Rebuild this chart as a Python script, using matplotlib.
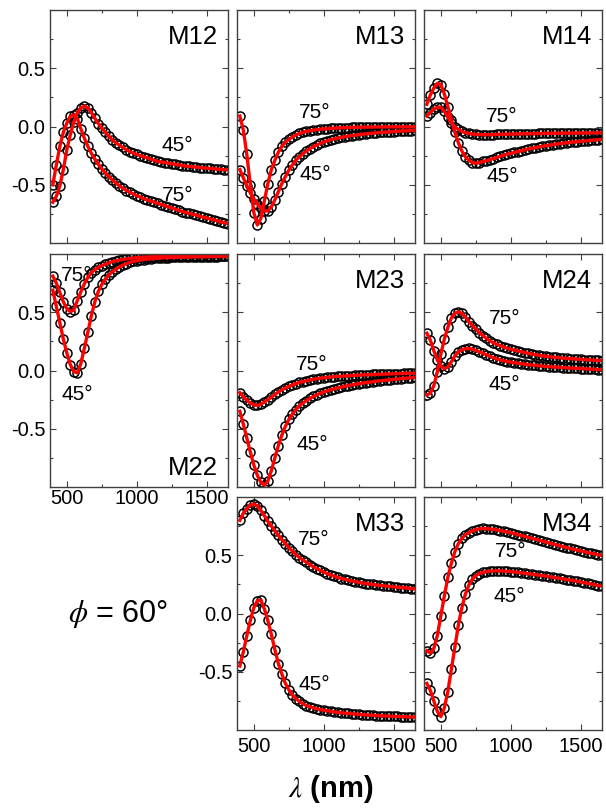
import matplotlib
matplotlib.use("Agg")
import matplotlib.pyplot as plt
from matplotlib.ticker import FormatStrFormatter

plt.rcParams["font.family"] = ["Liberation Sans", "DejaVu Sans"]
plt.rcParams["mathtext.fontset"] = "stix"
plt.rcParams["axes.unicode_minus"] = False

# ----------------------------------------------------------------------
# DATA (wavelength in nm, Mueller matrix elements at 45 and 75 deg)
# ----------------------------------------------------------------------
wl = [400, 425, 450, 475, 500, 525, 550, 575, 600, 625,
      650, 675, 700, 725, 750, 775, 800, 825, 850, 875,
      900, 925, 950, 975, 1000, 1025, 1050, 1075, 1100, 1125,
      1150, 1175, 1200, 1225, 1250, 1275, 1300, 1325, 1350, 1375,
      1400, 1425, 1450, 1475, 1500, 1525, 1550, 1575, 1600, 1625,
      1650]

m12_45 = [-0.65, -0.60, -0.51, -0.37, -0.20, -0.07, 0.04, 0.12, 0.16, 0.175,
          0.16, 0.12, 0.07, 0.025, -0.015, -0.05, -0.085, -0.115, -0.14, -0.16,
          -0.18, -0.20, -0.215, -0.23, -0.24, -0.25, -0.26, -0.27, -0.28, -0.29,
          -0.30, -0.305, -0.31, -0.315, -0.32, -0.325, -0.33, -0.335, -0.34, -0.343,
          -0.346, -0.349, -0.352, -0.355, -0.358, -0.36, -0.363, -0.366, -0.368, -0.37,
          -0.372]
m12_75 = [-0.50, -0.33, -0.17, -0.05, 0.03, 0.09, 0.10, 0.065, -0.02, -0.10,
          -0.17, -0.23, -0.28, -0.325, -0.365, -0.40, -0.43, -0.46, -0.485, -0.51,
          -0.53, -0.55, -0.565, -0.58, -0.595, -0.605, -0.62, -0.63, -0.64, -0.65,
          -0.66, -0.67, -0.68, -0.69, -0.70, -0.71, -0.72, -0.73, -0.74, -0.745,
          -0.755, -0.76, -0.77, -0.78, -0.785, -0.795, -0.80, -0.81, -0.82, -0.825,
          -0.835]

m13_45 = [-0.37, -0.44, -0.51, -0.57, -0.62, -0.665, -0.70, -0.725, -0.725, -0.69,
          -0.63, -0.56, -0.49, -0.43, -0.375, -0.33, -0.29, -0.26, -0.235, -0.21,
          -0.19, -0.172, -0.158, -0.145, -0.133, -0.122, -0.113, -0.106, -0.099, -0.093,
          -0.087, -0.082, -0.078, -0.074, -0.07, -0.066, -0.063, -0.06, -0.057, -0.054,
          -0.051, -0.049, -0.047, -0.045, -0.043, -0.041, -0.039, -0.038, -0.036, -0.035,
          -0.034]
m13_75 = [0.09, -0.03, -0.24, -0.50, -0.74, -0.845, -0.79, -0.64, -0.49, -0.37,
          -0.29, -0.22, -0.17, -0.135, -0.11, -0.09, -0.072, -0.06, -0.05, -0.042,
          -0.036, -0.031, -0.027, -0.023, -0.02, -0.018, -0.016, -0.014, -0.012, -0.011,
          -0.01, -0.009, -0.008, -0.007, -0.006, -0.006, -0.005, -0.005, -0.005, -0.004,
          -0.004, -0.004, -0.004, -0.003, -0.003, -0.003, -0.003, -0.003, -0.003, -0.003,
          -0.003]

m14_45 = [0.19, 0.27, 0.33, 0.37, 0.36, 0.28, 0.17, 0.06, -0.05, -0.14,
          -0.21, -0.26, -0.29, -0.31, -0.315, -0.31, -0.30, -0.295, -0.285, -0.275,
          -0.265, -0.255, -0.245, -0.237, -0.23, -0.222, -0.215, -0.207, -0.20, -0.193,
          -0.187, -0.181, -0.175, -0.17, -0.165, -0.16, -0.155, -0.151, -0.147, -0.143,
          -0.139, -0.136, -0.133, -0.13, -0.127, -0.124, -0.121, -0.118, -0.116, -0.113,
          -0.11]
m14_75 = [0.09, 0.12, 0.15, 0.165, 0.165, 0.13, 0.08, 0.03, -0.005, -0.025,
          -0.042, -0.053, -0.06, -0.065, -0.068, -0.069, -0.07, -0.07, -0.07, -0.069,
          -0.068, -0.067, -0.066, -0.066, -0.065, -0.064, -0.064, -0.063, -0.062, -0.062,
          -0.061, -0.061, -0.06, -0.06, -0.059, -0.059, -0.058, -0.058, -0.058, -0.057,
          -0.057, -0.057, -0.056, -0.056, -0.056, -0.055, -0.055, -0.055, -0.055, -0.054,
          -0.054]

m22_45 = [0.69, 0.55, 0.41, 0.27, 0.15, 0.05, -0.01, -0.02, 0.06, 0.19,
          0.33, 0.47, 0.59, 0.68, 0.74, 0.785, 0.82, 0.847, 0.869, 0.89,
          0.905, 0.918, 0.928, 0.937, 0.943, 0.948, 0.952, 0.956, 0.959, 0.962,
          0.964, 0.966, 0.968, 0.969, 0.970, 0.971, 0.972, 0.973, 0.973, 0.974,
          0.975, 0.975, 0.976, 0.976, 0.977, 0.977, 0.978, 0.978, 0.979, 0.979,
          0.98]
m22_75 = [0.81, 0.75, 0.67, 0.59, 0.53, 0.505, 0.52, 0.60, 0.675, 0.745,
          0.80, 0.84, 0.865, 0.885, 0.90, 0.913, 0.925, 0.934, 0.942, 0.948,
          0.953, 0.958, 0.962, 0.966, 0.969, 0.971, 0.973, 0.975, 0.976, 0.977,
          0.978, 0.979, 0.98, 0.98, 0.981, 0.981, 0.982, 0.982, 0.982, 0.983,
          0.983, 0.983, 0.984, 0.984, 0.984, 0.985, 0.985, 0.985, 0.986, 0.986,
          0.986]

m23_45 = [-0.35, -0.46, -0.58, -0.70, -0.81, -0.90, -0.96, -0.985, -0.95, -0.86,
          -0.75, -0.645, -0.555, -0.48, -0.42, -0.375, -0.335, -0.305, -0.28, -0.258,
          -0.24, -0.223, -0.208, -0.195, -0.184, -0.174, -0.165, -0.157, -0.149, -0.142,
          -0.135, -0.129, -0.123, -0.118, -0.113, -0.108, -0.104, -0.10, -0.096, -0.092,
          -0.088, -0.085, -0.082, -0.079, -0.076, -0.073, -0.07, -0.067, -0.065, -0.062,
          -0.06]
m23_75 = [-0.19, -0.225, -0.255, -0.28, -0.295, -0.30, -0.29, -0.27, -0.25, -0.23,
          -0.205, -0.185, -0.165, -0.15, -0.137, -0.125, -0.112, -0.103, -0.095, -0.088,
          -0.081, -0.075, -0.07, -0.066, -0.062, -0.059, -0.056, -0.053, -0.051, -0.049,
          -0.047, -0.045, -0.043, -0.041, -0.04, -0.038, -0.037, -0.036, -0.034, -0.033,
          -0.032, -0.031, -0.03, -0.029, -0.028, -0.027, -0.026, -0.025, -0.024, -0.024,
          -0.023]

m24_45 = [0.32, 0.26, 0.17, 0.09, 0.04, 0.015, 0.03, 0.075, 0.125, 0.16,
          0.178, 0.187, 0.19, 0.183, 0.172, 0.16, 0.148, 0.135, 0.122, 0.11,
          0.10, 0.091, 0.083, 0.077, 0.072, 0.067, 0.062, 0.058, 0.054, 0.05,
          0.047, 0.044, 0.041, 0.038, 0.035, 0.033, 0.031, 0.029, 0.027, 0.025,
          0.023, 0.022, 0.02, 0.018, 0.017, 0.015, 0.013, 0.012, 0.01, 0.008,
          0.006]
m24_75 = [-0.21, -0.195, -0.13, -0.01, 0.14, 0.27, 0.37, 0.45, 0.49, 0.505,
          0.49, 0.46, 0.42, 0.385, 0.355, 0.325, 0.30, 0.275, 0.255, 0.238,
          0.225, 0.212, 0.20, 0.19, 0.182, 0.175, 0.168, 0.161, 0.154, 0.147,
          0.141, 0.136, 0.131, 0.126, 0.122, 0.118, 0.115, 0.112, 0.109, 0.106,
          0.104, 0.102, 0.10, 0.098, 0.096, 0.094, 0.092, 0.09, 0.088, 0.087,
          0.085]

m33_45 = [-0.45, -0.33, -0.19, -0.06, 0.05, 0.11, 0.115, 0.04, -0.06, -0.18,
          -0.31, -0.43, -0.52, -0.60, -0.655, -0.70, -0.73, -0.755, -0.775, -0.79,
          -0.80, -0.81, -0.818, -0.825, -0.83, -0.835, -0.84, -0.845, -0.849, -0.852,
          -0.855, -0.858, -0.861, -0.864, -0.866, -0.868, -0.87, -0.872, -0.874, -0.876,
          -0.877, -0.879, -0.88, -0.882, -0.883, -0.884, -0.885, -0.886, -0.887, -0.888,
          -0.889]
m33_75 = [0.80, 0.86, 0.90, 0.93, 0.94, 0.925, 0.885, 0.84, 0.79, 0.75,
          0.71, 0.67, 0.635, 0.60, 0.565, 0.535, 0.505, 0.48, 0.46, 0.44,
          0.42, 0.40, 0.385, 0.37, 0.355, 0.342, 0.33, 0.32, 0.31, 0.30,
          0.293, 0.286, 0.279, 0.273, 0.267, 0.262, 0.257, 0.253, 0.249, 0.245,
          0.241, 0.238, 0.235, 0.232, 0.229, 0.226, 0.223, 0.22, 0.217, 0.214,
          0.212]

m34_45 = [-0.60, -0.66, -0.75, -0.84, -0.885, -0.81, -0.67, -0.48, -0.29, -0.10,
          0.05, 0.165, 0.245, 0.295, 0.325, 0.343, 0.353, 0.36, 0.364, 0.366,
          0.367, 0.366, 0.364, 0.362, 0.359, 0.356, 0.353, 0.349, 0.345, 0.341,
          0.337, 0.333, 0.329, 0.325, 0.321, 0.316, 0.311, 0.306, 0.301, 0.296,
          0.291, 0.286, 0.281, 0.276, 0.27, 0.264, 0.258, 0.252, 0.246, 0.24,
          0.234]
m34_75 = [-0.32, -0.34, -0.30, -0.19, -0.02, 0.15, 0.31, 0.43, 0.53, 0.60,
          0.645, 0.675, 0.695, 0.71, 0.72, 0.727, 0.73, 0.729, 0.726, 0.722,
          0.717, 0.712, 0.706, 0.70, 0.693, 0.685, 0.677, 0.669, 0.661, 0.653,
          0.645, 0.637, 0.629, 0.621, 0.613, 0.605, 0.597, 0.589, 0.581, 0.573,
          0.565, 0.558, 0.551, 0.544, 0.537, 0.53, 0.523, 0.516, 0.51, 0.504,
          0.498]

curves = {
    "M12": (m12_45, m12_75),
    "M13": (m13_45, m13_75),
    "M14": (m14_45, m14_75),
    "M22": (m22_45, m22_75),
    "M23": (m23_45, m23_75),
    "M24": (m24_45, m24_75),
    "M33": (m33_45, m33_75),
    "M34": (m34_45, m34_75),
}

# ----------------------------------------------------------------------
# LAYOUT (pixels on a 606 x 809 canvas)
# ----------------------------------------------------------------------
W, H = 606, 809
col_x = [50, 237, 424]
row_y = [10, 254, 497]
panel_w, panel_h = 178, 233

placement = {
    "M12": (0, 0), "M13": (0, 1), "M14": (0, 2),
    "M22": (1, 0), "M23": (1, 1), "M24": (1, 2),
    "M33": (2, 1), "M34": (2, 2),
}

# where the "45°" / "75°" tags sit, in data coordinates
tag_pos = {
    "M12": ((1290, -0.165), (1290, -0.59)),
    "M13": ((937, -0.41), (937, 0.12)),
    "M14": ((937, -0.425), (937, 0.088)),
    "M22": ((573, -0.208), (573, 0.818)),
    "M23": ((916, -0.635), (916, 0.049)),
    "M24": ((954, -0.122), (954, 0.444)),
    "M33": ((930, -0.607), (930, 0.632)),
    "M34": ((990, 0.148), (997, 0.532)),
}

y_labeled = {"M12", "M22", "M33"}
x_labeled = {"M22", "M33", "M34"}

spine_color = "#404040"

fig = plt.figure(figsize=(W / 100, H / 100), dpi=100)

for name, (r, c) in placement.items():
    ax = fig.add_axes([col_x[c] / W, 1 - (row_y[r] + panel_h) / H,
                       panel_w / W, panel_h / H])

    # measured points first, fitted lines on top
    for y in curves[name]:
        ax.plot(wl, y, ls="none", marker="o", ms=6.5, mfc="none",
                mec="black", mew=1.1)
    for y in curves[name]:
        ax.plot(wl, y, color="red", lw=2.4)

    ax.set_xlim(380, 1650)
    ax.set_ylim(-1, 1)
    ax.set_xticks([500, 1000, 1500])
    ax.set_xticks([750, 1250], minor=True)
    ax.set_yticks([-0.5, 0.0, 0.5])
    ax.set_yticks([-0.75, -0.25, 0.25, 0.75], minor=True)
    ax.yaxis.set_major_formatter(FormatStrFormatter("%.1f"))

    ax.tick_params(which="both", direction="in", top=True, right=True,
                   color=spine_color, width=0.8, labelsize=14.5)
    ax.tick_params(which="major", length=4)
    ax.tick_params(which="minor", length=2.5)
    ax.tick_params(axis="y", pad=3.5)
    ax.tick_params(axis="x", pad=1.5 if name == "M22" else 5)
    ax.tick_params(labelleft=name in y_labeled, labelbottom=name in x_labeled)

    for sp in ax.spines.values():
        sp.set_color(spine_color)
        sp.set_linewidth(1.0)

    if name == "M22":
        ax.text(0.944, 0.052, name, transform=ax.transAxes, ha="right",
                va="baseline", fontsize=18.5)
    else:
        ax.text(0.944, 0.936, name, transform=ax.transAxes, ha="right",
                va="top", fontsize=18.5)

    for tag, (tx, ty) in zip(["45°", "75°"], tag_pos[name]):
        ax.text(tx, ty, tag, ha="center", va="center", fontsize=15)

fig.text(118 / W, 1 - 622 / H, r"$\phi$ = 60°", ha="center", va="baseline",
         fontsize=22)
fig.text(331 / W, 1 - 797 / H, r"$\lambda$ (nm)", ha="center", va="baseline",
         fontsize=21, fontweight="bold")

fig.savefig("out.png", dpi=100)
